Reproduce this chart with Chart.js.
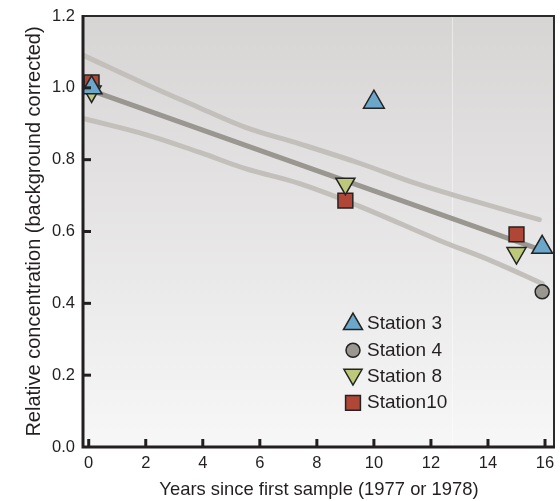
<!DOCTYPE html>
<html>
<head>
<meta charset="utf-8">
<script src="https://cdn.jsdelivr.net/npm/chart.js@4.4.1/dist/chart.umd.min.js"></script>
<style>
html,body{margin:0;padding:0;background:#fff;}
#wrap{width:560px;height:501px;}
</style>
</head>
<body>
<div id="wrap"><canvas id="chart" width="560" height="501"></canvas></div>
<script>
// data
const stationNames=['Station 3','Station 4','Station 8','Station10'];
const st3X=[0.1,10,15.9], st3Y=[1.0,0.96,0.556];
const st4X=[0.1,15.9], st4Y=[1.012,0.432];
const st8X=[0.1,9,15], st8Y=[0.99,0.733,0.54];
const st10X=[0.1,9,15], st10Y=[1.015,0.686,0.592];
const fitX=[0,15.8], fitY=[0.995,0.55];
const upX=[-0.15,2,3.9,5.5,7.4,9.5,11.5,13.5,15.8];
const upY=[1.089,1.01,0.944,0.89,0.844,0.79,0.733,0.685,0.633];
const loX=[-0.15,2,3.9,5.5,7.4,9.5,12.3,14.1,15.9];
const loY=[0.914,0.87,0.82,0.775,0.733,0.67,0.575,0.519,0.455];
const xTicks=[0,2,4,6,8,10,12,14,16];
const yTicks=[0,0.2,0.4,0.6,0.8,1.0,1.2];

const FONT='"Liberation Sans",Arial,sans-serif';
const pts=(xs,ys)=>xs.map((x,i)=>({x,y:ys[i]}));

const markers=[
  {style:'triangle',rot:0,r:12,color:'#6ba6cb'},
  {style:'circle',rot:0,r:7,color:'#9a9791'},
  {style:'triangle',rot:180,r:11,color:'#bdc87a'},
  {style:'rect',rot:0,r:10.5,color:'#b04636'}
];
const seriesX=[st3X,st4X,st8X,st10X], seriesY=[st3Y,st4Y,st8Y,st10Y];

const bandSet=(xs,ys,c,w)=>({type:'line',data:pts(xs,ys),borderColor:c,borderWidth:w,
  pointRadius:0,tension:0.4,fill:false,borderCapStyle:'round',order:5});

const datasets=[];
// first dataset is drawn on top: up triangle, down triangle, square, circle
[0,2,3,1].forEach(i=>{
  const m=markers[i];
  datasets.push({type:'scatter',label:stationNames[i],data:pts(seriesX[i],seriesY[i]),
    pointStyle:m.style,pointRotation:m.rot,pointRadius:m.r,pointHoverRadius:m.r,
    backgroundColor:m.color,borderColor:'#232323',borderWidth:1.5,order:1});
});
datasets.push(bandSet(fitX,fitY,'#9a9690',5));
datasets.push(bandSet(upX,upY,'#c3c0bb',5));
datasets.push(bandSet(loX,loY,'#c3c0bb',5));

const frame={
  id:'frame',
  beforeDraw(c){
    const a=c.chartArea,ctx=c.ctx;
    const g=ctx.createLinearGradient(0,a.top,0,a.bottom);
    g.addColorStop(0,'#d7d4d4');g.addColorStop(1,'#f7f7f7');
    ctx.save();ctx.fillStyle=g;ctx.fillRect(a.left,a.top,a.right-a.left,a.bottom-a.top);
    ctx.strokeStyle='rgba(255,255,255,0.45)';ctx.lineWidth=1;
    ctx.beginPath();ctx.moveTo(452.5,a.top);ctx.lineTo(452.5,a.bottom);ctx.stroke();
    ctx.restore();
  },
  afterDraw(c){
    const a=c.chartArea,ctx=c.ctx,xs=c.scales.x,ys=c.scales.y;
    ctx.save();
    ctx.strokeStyle='#2b2b2b';
    ctx.lineWidth=2;
    ctx.beginPath();ctx.moveTo(a.left,a.top);ctx.lineTo(a.right-1,a.top);ctx.lineTo(a.right-1,a.bottom);ctx.stroke();
    ctx.strokeStyle='#231f20';ctx.lineWidth=3;
    ctx.beginPath();ctx.moveTo(a.left,a.top-1);ctx.lineTo(a.left,a.bottom);ctx.lineTo(a.right,a.bottom);ctx.stroke();
    // inward ticks
    xTicks.forEach(v=>{const px=xs.getPixelForValue(v);ctx.beginPath();ctx.moveTo(px,a.bottom);ctx.lineTo(px,a.bottom-8);ctx.stroke();});
    yTicks.forEach(v=>{if(v===0||v===1.2)return;const py=ys.getPixelForValue(v);ctx.beginPath();ctx.moveTo(a.left,py);ctx.lineTo(a.left+8,py);ctx.stroke();});
    // legend
    ctx.font='19px '+FONT;ctx.textBaseline='middle';
    stationNames.forEach((n,i)=>{
      const m=markers[i],y=323+i*26.3,x=353;
      ctx.fillStyle=m.color;ctx.strokeStyle='#232323';ctx.lineWidth=1.5;
      Chart.helpers.drawPoint(ctx,{pointStyle:m.style,rotation:m.rot,radius:m.r===12?11:(m.r===11?10.5:m.r),borderWidth:1.5},x,y+(m.rot?-1:1));
      ctx.fillStyle='#231f20';ctx.fillText(n,367,y+1);
    });
    ctx.restore();
  }
};

new Chart(document.getElementById('chart'),{
  data:{datasets},
  options:{
    responsive:false,animation:false,
    layout:{autoPadding:false,padding:{top:16,right:5,left:0,bottom:0}},
    plugins:{legend:{display:false},tooltip:{enabled:false}},
    scales:{
      x:{type:'linear',min:-0.2,max:16.35,
        afterFit:s=>{s.height=54;s.paddingLeft=0;s.paddingRight=0;},
        afterBuildTicks:s=>{s.ticks=xTicks.map(v=>({value:v}));},
        grid:{display:false,drawTicks:false},border:{display:false},
        ticks:{color:'#231f20',font:{size:16.5,family:FONT},padding:7,maxRotation:0},
        title:{display:true,text:'Years since first sample (1977 or 1978)',color:'#231f20',
          font:{size:18.4,family:FONT},padding:{top:0,bottom:0}}},
      y:{type:'linear',min:0,max:1.2,
        afterFit:s=>{s.width=83;s.paddingTop=0;s.paddingBottom=0;},
        afterBuildTicks:s=>{s.ticks=yTicks.map(v=>({value:v}));},
        grid:{display:false,drawTicks:false},border:{display:false},
        ticks:{color:'#231f20',font:{size:16.5,family:FONT},padding:8,callback:v=>v.toFixed(1)},
        title:{display:true,text:'Relative concentration (background corrected)',color:'#231f20',
          font:{size:20,family:FONT},padding:{top:22,bottom:0}}}
    }
  },
  plugins:[frame]
});
</script>
</body>
</html>
